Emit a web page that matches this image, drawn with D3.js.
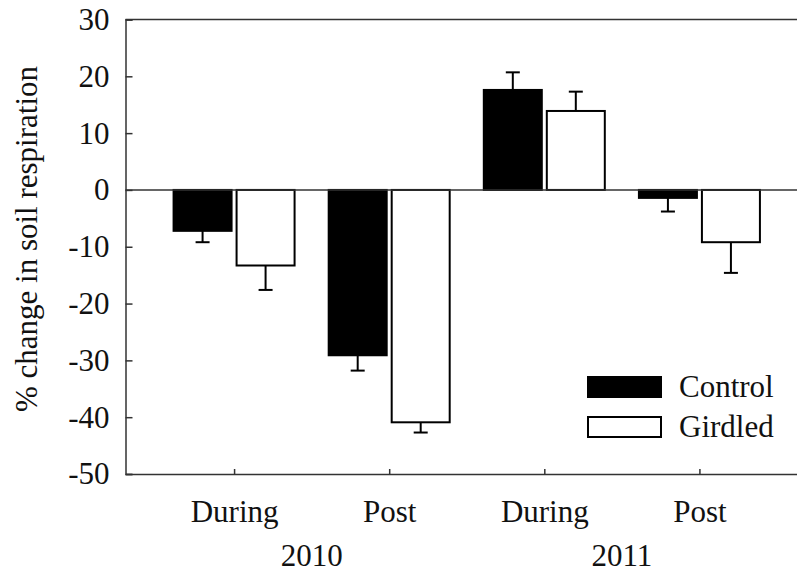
<!DOCTYPE html>
<html lang="en">
<head>
    <meta charset="UTF-8">
    <title>% change in soil respiration</title>
    <script src="https://d3js.org/d3.v7.min.js"></script>
    <style>
        body {
            margin: 0;
            padding: 0;
            background-color: #ffffff;
        }
        svg text {
            font-family: "Liberation Serif", "Times New Roman", serif;
            fill: #111;
        }
    </style>
</head>
<body>
    <div id="chart"></div>
    <script>
        // data
        const periods = ["During", "Post", "During", "Post"];
        const years = ["2010", "2011"];
        const groups = ["Control", "Girdled"];
        const controlValues = [-7.2, -29.1, 17.6, -1.4];
        const controlErrors = [2.0, 2.7, 3.1, 2.4];
        const girdledValues = [-13.3, -40.9, 13.9, -9.2];
        const girdledErrors = [4.3, 1.8, 3.4, 5.4];
        const yTicks = [-50, -40, -30, -20, -10, 0, 10, 20, 30];

        const width = 797, height = 579;
        const margin = {top: 19.5, right: -11, bottom: 105, left: 125.5};
        const innerW = width - margin.left - margin.right;
        const innerH = height - margin.top - margin.bottom;
        const fontSize = "31px";

        const svg = d3.select("#chart")
            .append("svg")
            .attr("width", width)
            .attr("height", height)
            .append("g")
            .attr("transform", `translate(${margin.left},${margin.top})`);

        const x = d3.scalePoint()
            .domain(d3.range(periods.length))
            .range([0, innerW])
            .padding(0.7);
        const y = d3.scaleLinear()
            .domain([-50, 30])
            .range([innerH, 0]);

        const barW = 58, gap = 2.5;
        const axisColor = "#333";

        // bars built from the arrays
        const rows = periods.map((p, i) => [
            {i: i, g: "Control", v: controlValues[i], e: controlErrors[i]},
            {i: i, g: "Girdled", v: girdledValues[i], e: girdledErrors[i]}
        ]).flat();
        const barX = d => d.g === "Control" ? x(d.i) - gap - barW : x(d.i) + gap;

        svg.selectAll(".bar")
            .data(rows)
            .enter()
            .append("rect")
            .attr("class", "bar")
            .attr("x", barX)
            .attr("y", d => y(Math.max(0, d.v)))
            .attr("width", barW)
            .attr("height", d => Math.abs(y(d.v) - y(0)))
            .attr("fill", d => d.g === "Control" ? "#000" : "#fff")
            .attr("stroke", "#000")
            .attr("stroke-width", 2);

        // one-sided error bars
        const errEnd = d => d.v >= 0 ? d.v + d.e : d.v - d.e;
        const err = svg.selectAll(".err")
            .data(rows)
            .enter()
            .append("g")
            .attr("class", "err")
            .attr("stroke", "#000")
            .attr("stroke-width", 2);
        err.append("line")
            .attr("x1", d => barX(d) + barW / 2)
            .attr("x2", d => barX(d) + barW / 2)
            .attr("y1", d => y(d.v))
            .attr("y2", d => y(errEnd(d)));
        err.append("line")
            .attr("x1", d => barX(d) + barW / 2 - 7)
            .attr("x2", d => barX(d) + barW / 2 + 7)
            .attr("y1", d => y(errEnd(d)))
            .attr("y2", d => y(errEnd(d)));

        // zero line and top frame
        svg.append("line")
            .attr("x1", 0).attr("x2", innerW)
            .attr("y1", y(0)).attr("y2", y(0))
            .attr("stroke", axisColor).attr("stroke-width", 1.5);
        svg.append("line")
            .attr("x1", 0).attr("x2", innerW)
            .attr("y1", 0).attr("y2", 0)
            .attr("stroke", axisColor).attr("stroke-width", 1.5);

        // y axis, ticks inside, plain hyphen for negatives
        const yAxis = svg.append("g")
            .call(d3.axisLeft(y).tickValues(yTicks).tickSize(-7).tickPadding(16).tickFormat(d => String(d)));
        yAxis.select(".domain").attr("stroke", axisColor).attr("stroke-width", 1.5);
        yAxis.selectAll(".tick line").attr("stroke", axisColor).attr("stroke-width", 1.5);
        yAxis.selectAll(".tick text")
            .style("font-size", fontSize)
            .attr("fill", "#111");

        // x axis, ticks inside
        const xAxis = svg.append("g")
            .attr("transform", `translate(0,${innerH})`)
            .call(d3.axisBottom(x).tickSize(-5).tickSizeOuter(0).tickFormat(i => periods[i]).tickPadding(26));
        xAxis.select(".domain").attr("stroke", axisColor).attr("stroke-width", 1.5);
        xAxis.selectAll(".tick line").attr("stroke", axisColor).attr("stroke-width", 1.5);
        xAxis.selectAll(".tick text")
            .style("font-size", fontSize)
            .attr("fill", "#111");

        // year labels under each pair of periods
        svg.selectAll(".year")
            .data(years)
            .enter()
            .append("text")
            .attr("class", "year")
            .attr("x", (d, k) => (x(2 * k) + x(2 * k + 1)) / 2)
            .attr("y", innerH + 92)
            .attr("text-anchor", "middle")
            .style("font-size", fontSize)
            .text(d => d);

        // y axis title
        svg.append("text")
            .attr("transform", `translate(${37 - margin.left},${239 - margin.top}) rotate(-90)`)
            .attr("text-anchor", "middle")
            .style("font-size", fontSize)
            .text("% change in soil respiration");

        // legend
        const legend = svg.append("g")
            .attr("transform", `translate(${588 - margin.left},${377 - margin.top})`);
        legend.selectAll("rect")
            .data(groups)
            .enter()
            .append("rect")
            .attr("x", 0)
            .attr("y", (d, i) => i * 40)
            .attr("width", 73)
            .attr("height", 20)
            .attr("fill", d => d === "Control" ? "#000" : "#fff")
            .attr("stroke", "#000")
            .attr("stroke-width", 2);
        legend.selectAll("text")
            .data(groups)
            .enter()
            .append("text")
            .attr("x", 91)
            .attr("y", (d, i) => i * 40 + 20)
            .style("font-size", fontSize)
            .text(d => d);
    </script>
</body>
</html>
